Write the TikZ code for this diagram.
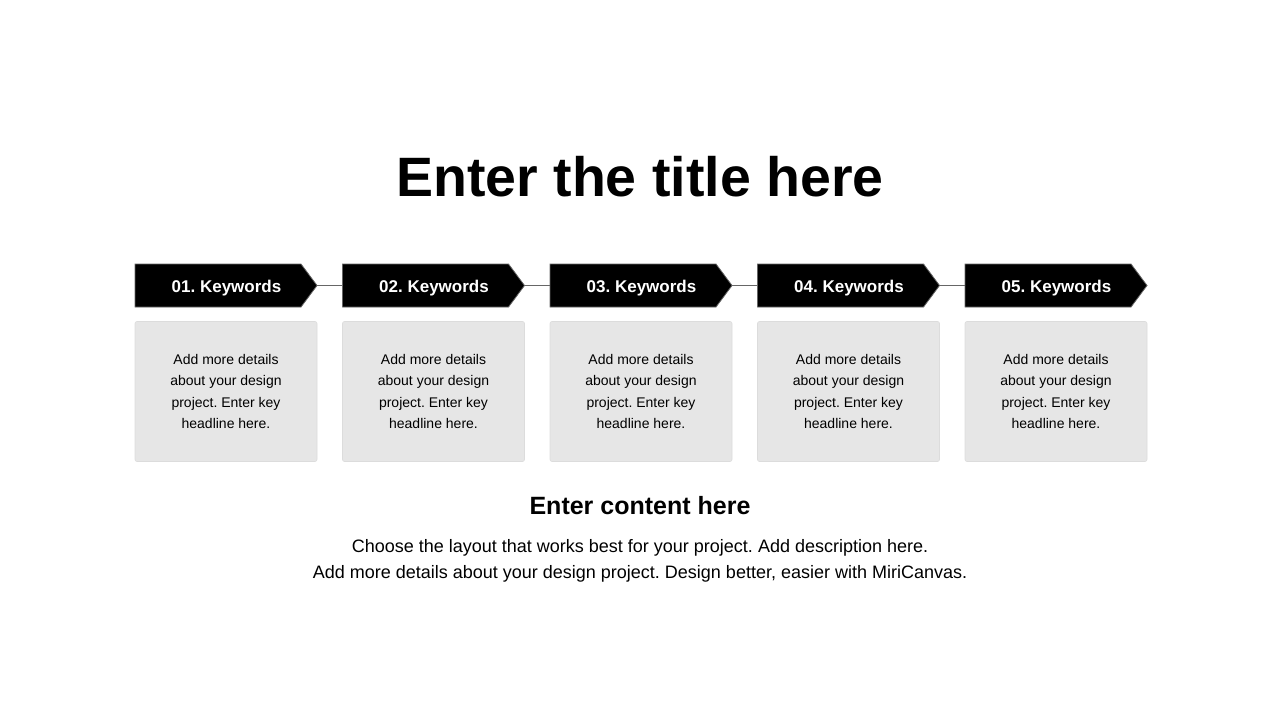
\documentclass[tikz,border=0pt]{standalone}
\usepackage{fontspec}
\setmainfont{Liberation Sans}
\frenchspacing
\definecolor{boxgray}{HTML}{E6E6E6}
\definecolor{boxline}{HTML}{DCDCDC}
\definecolor{conn}{HTML}{666666}
\tikzset{
  kwshape/.style={fill=black, draw=conn, line width=0.8pt},
  kwtext/.style={text=white, inner sep=0pt, font=\fontsize{17}{20}\selectfont\bfseries},
  detail/.style={rectangle, rounded corners=2pt, fill=boxgray, draw=boxline, line width=0.6pt,
    minimum width=182pt, minimum height=140pt, inner sep=0pt, align=center,
    font=\fontsize{14}{21.5}\selectfont},
  link/.style={draw=conn, line width=1.2pt}
}
\begin{document}
\frenchspacing
\begin{tikzpicture}[x=1pt,y=-1pt]
\useasboundingbox (0,0) rectangle (1280,720);
\node (title) at (640,177) {\fontsize{55.5}{66}\selectfont\bfseries Enter the title here};
\foreach \i/\n in {0/01,1/02,2/03,3/04,4/05}{
  \pgfmathsetmacro{\xl}{135+207.5*\i}
  \coordinate (tail\i) at (\xl,285.5);
  \coordinate (tip\i) at (\xl+182,285.5);
  \draw[kwshape] (\xl,264) -- (\xl+166,264) -- (tip\i) -- (\xl+166,307) -- (\xl,307) -- cycle;
  \node[kwtext] (k\i) at (\xl+91.5,288) {\n. Keywords};
  \node[detail] (d\i) at (\xl+91,391.5) {Add more details\\about your design\\project. Enter key\\headline here.};
}
\foreach \a/\b in {0/1,1/2,2/3,3/4}{
  \draw[link] (tip\a) -- (tail\b);
}
\node (sub) at (640,506) {\fontsize{25}{30}\selectfont\bfseries Enter content here};
\node[align=center, font=\fontsize{18}{26}\selectfont] (desc) at (640,561) {Choose the layout that works best for your project. Add description here.\\Add more details about your design project. Design better, easier with MiriCanvas.};
\end{tikzpicture}
\end{document}
